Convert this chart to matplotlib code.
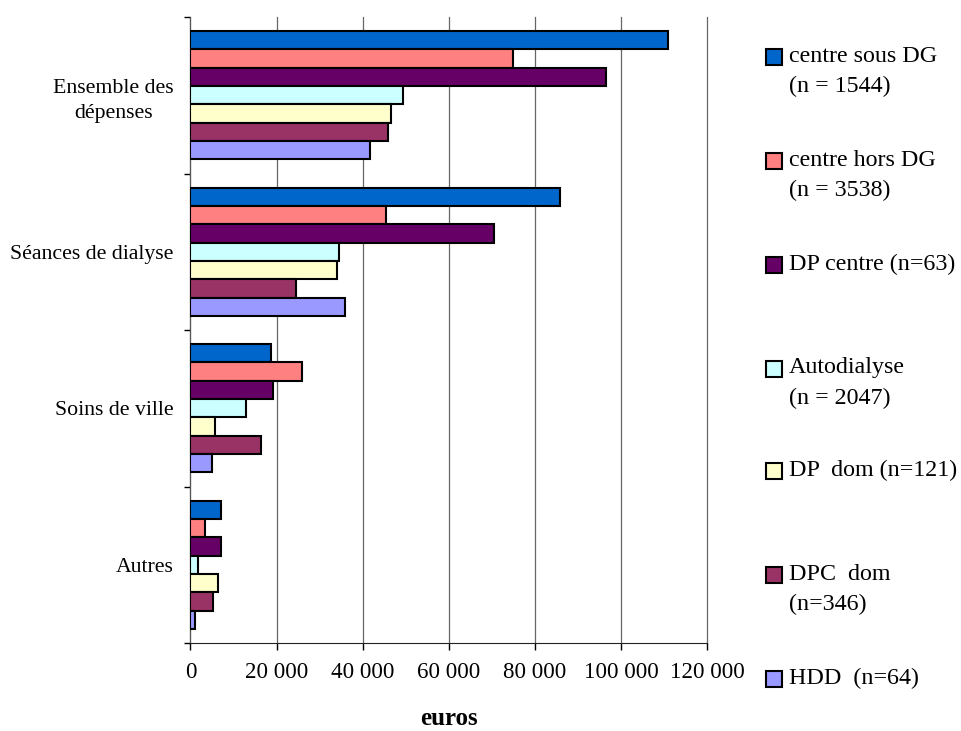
import numpy as np
import matplotlib
matplotlib.use("Agg")
import matplotlib.pyplot as plt
from matplotlib.patches import Rectangle

plt.rcParams['font.family'] = ['Liberation Serif', 'DejaVu Serif']
plt.rcParams['font.size'] = 16.5

categories = ["Ensemble des\ndépenses", "Séances de dialyse", "Soins de ville", "Autres"]

# dépenses moyennes par patient, en euros
centre_sous_dg = [111000, 85900, 18700, 7000]
centre_hors_dg = [75000, 45500, 26000, 3300]
dp_centre = [96600, 70600, 19100, 7000]
autodialyse = [49300, 34400, 13000, 1800]
dp_dom = [46500, 34000, 5600, 6500]
dpc_dom = [46000, 24600, 16400, 5200]
hdd = [41800, 35800, 5100, 1000]

series = [centre_sous_dg, centre_hors_dg, dp_centre, autodialyse, dp_dom, dpc_dom, hdd]
labels = ["centre sous DG\n(n = 1544)", "centre hors DG\n(n = 3538)", "DP centre (n=63)",
          "Autodialyse\n(n = 2047)", "DP  dom (n=121)", "DPC  dom\n(n=346)", "HDD  (n=64)"]
colors = ["#0066CC", "#FF8080", "#660066", "#CCFFFF", "#FFFFCC", "#993366", "#9999FF"]

xticks = [0, 20000, 40000, 60000, 80000, 100000, 120000]
xticklabels = ["0", "20 000", "40 000", "60 000", "80 000", "100 000", "120 000"]

W, H = 962, 731
fig = plt.figure(figsize=(W / 100, H / 100), dpi=100)
ax = fig.add_axes([190.5 / W, 1 - 643 / H, (707 - 190.5) / W, (643 - 17) / H])

y = np.arange(len(categories))
h = 0.117
for j, (vals, col) in enumerate(zip(series, colors)):
    ax.barh(y + (j - 3) * h, vals, height=h, color=col, edgecolor="black",
            linewidth=1.5, zorder=3)

ax.set_xlim(0, 120000)
ax.set_ylim(len(categories) - 0.5, -0.5)

ax.set_xticks(xticks)
ax.set_xticklabels(xticklabels, fontsize=16.6)
ax.tick_params(axis="x", direction="out", length=5, width=1, pad=8.7)
ax.grid(axis="x", color="#666666", linewidth=0.9, zorder=0)
for gl in ax.xaxis.get_gridlines():
    gl.set_clip_on(False)

ax.set_yticks(y)
ax.set_yticklabels(categories, multialignment="center", fontsize=15.7, linespacing=1.45)
ax.set_yticks(np.arange(len(categories) + 1) - 0.5, minor=True)
ax.tick_params(axis="y", which="major", length=0, pad=12)
ax.tick_params(axis="y", which="minor", direction="out", length=4, width=1)

for s in ["top", "right"]:
    ax.spines[s].set_visible(False)
ax.spines["left"].set_color("#555555")
ax.spines["bottom"].set_color("#222222")

fig.text(448.5 / W, 1 - 725 / H, "euros", ha="center", va="baseline",
         fontweight="bold", fontsize=18)

# légende à droite, une entrée tous les ~104 px
leg_y = [57, 161, 265, 369, 471, 575, 679]
for lab, col, ly in zip(labels, colors, leg_y):
    fig.add_artist(Rectangle((766 / W, 1 - (ly + 8) / H), 16.5 / W, 16 / H,
                             facecolor=col, edgecolor="black", linewidth=1.5,
                             transform=fig.transFigure))
    fig.text(789 / W, 1 - (ly - 11.5) / H, lab, ha="left", va="top",
             fontsize=17.3, linespacing=1.55)

fig.savefig("out.png", dpi=100)
